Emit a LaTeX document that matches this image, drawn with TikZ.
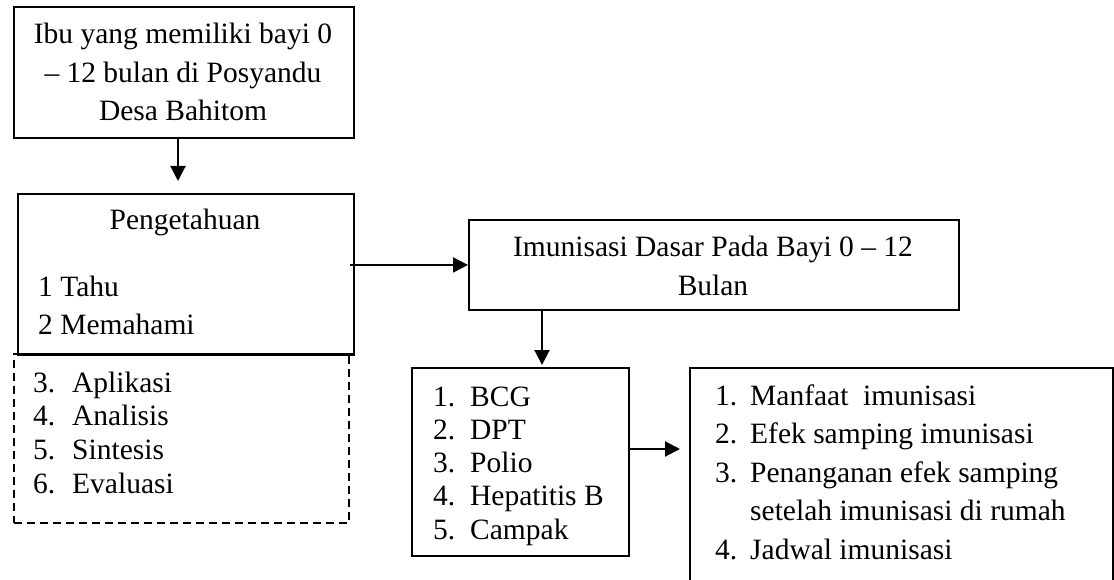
\documentclass[tikz,border=0pt]{standalone}
\usepackage{fontspec}
\setmainfont{Liberation Serif}
\usetikzlibrary{arrows.meta}
\begin{document}
\begin{tikzpicture}[x=1pt,y=-1pt,
  box/.style={draw, line width=1.9pt, inner sep=0pt, anchor=north west},
  dashbox/.style={box, dash pattern=on 8pt off 5pt},
  txt/.style={inner sep=0pt, font=\fontsize{29.5}{38.5}\selectfont},
  arr/.style={line width=2pt, -{Triangle[length=15pt,width=15pt]}},
]
\useasboundingbox (0,0) rectangle (1114,580);

% boxes
\node[box, minimum width=340pt, minimum height=131pt] (ibu) at (13,6) {};
\node[box, minimum width=336pt, minimum height=160pt] (peng) at (17,193) {};
\node[dashbox, minimum width=335pt, minimum height=169pt] (level) at (13,353) {};
\node[box, minimum width=490pt, minimum height=90pt] (imun) at (468,219) {};
\node[box, minimum width=217pt, minimum height=188pt] (jenis) at (411,367) {};
\node[box, minimum width=423pt, minimum height=225pt] (materi) at (689,367) {};
% solid bottom edge of the knowledge box drawn over the dashed one
\draw[line width=1.9pt] (peng.south west) -- (peng.south east);

% texts
\node[txt, anchor=base] (ibuT) at (183,44)
  {\begin{tabular}[t]{@{}c@{}}Ibu yang memiliki bayi 0\\ – 12 bulan di Posyandu\\ Desa Bahitom\end{tabular}};
\node[txt, anchor=base] (pengT) at (185,230) {Pengetahuan};
\node[txt, anchor=base west, font=\fontsize{29.5}{39}\selectfont] (pengL) at (38,296)
  {\begin{tabular}[t]{@{}l@{}}1 Tahu\\ 2 Memahami\end{tabular}};
\node[txt, anchor=base west, font=\fontsize{29.5}{33.7}\selectfont] (levelL) at (33,392)
  {\begin{tabular}[t]{@{}p{39pt}@{}l@{}}3. & Aplikasi\\ 4. & Analisis\\ 5. & Sintesis\\ 6. & Evaluasi\end{tabular}};
\node[txt, anchor=base] (imunT) at (713,257)
  {\begin{tabular}[t]{@{}c@{}}Imunisasi Dasar Pada Bayi 0 – 12\\ Bulan\end{tabular}};
\node[txt, anchor=base west, font=\fontsize{29.5}{33.3}\selectfont] (jenisL) at (433,406)
  {\begin{tabular}[t]{@{}p{37pt}@{}l@{}}1. & BCG\\ 2. & DPT\\ 3. & Polio\\ 4. & Hepatitis B\\ 5. & Campak\end{tabular}};
\node[txt, anchor=base west, font=\fontsize{29.5}{38.5}\selectfont] (materiL) at (715,405)
  {\begin{tabular}[t]{@{}p{35pt}@{}l@{}}1. & Manfaat\ \ imunisasi\\ 2. & Efek samping imunisasi\\ 3. & Penanganan efek samping\\ & setelah imunisasi di rumah\\ 4. & Jadwal imunisasi\end{tabular}};

% connectors
\coordinate (ax) at (178,0);
\coordinate (dx) at (542,0);
\coordinate (ey) at (0,449);
\draw[arr, shorten >=12pt] (ibu.south -| ax) -- (peng.north -| ax);
\draw[arr] ([xshift=-5pt]peng.east |- imun.west) -- (imun.west);
\draw[arr, shorten >=2pt] (imun.south -| dx) -- (jenis.north -| dx);
\draw[arr, shorten >=9pt] (jenis.east |- ey) -- (materi.west |- ey);
\end{tikzpicture}
\end{document}
